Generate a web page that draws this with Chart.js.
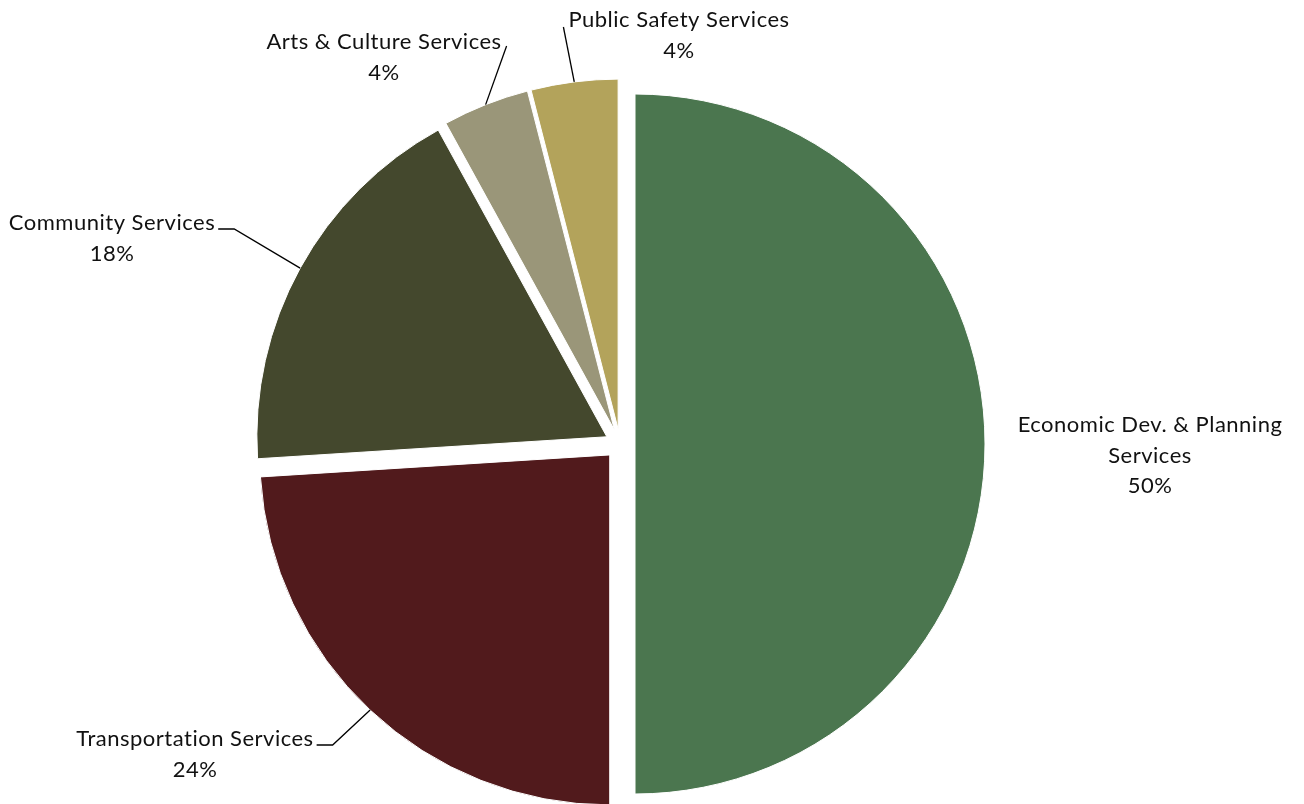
<!DOCTYPE html>
<html>
<head>
<meta charset="utf-8">
<script src="https://cdn.jsdelivr.net/npm/chart.js@4/dist/chart.umd.min.js"></script>
<style>
  html, body { margin: 0; padding: 0; background: #fff; }
  #wrap { width: 1304px; height: 804px; position: relative; }
</style>
</head>
<body>
<div id="wrap"><canvas id="myChart"></canvas></div>
<script>
// budget share by service area, percent
const categories = [
  ['Economic Dev. & Planning', 'Services'],
  'Transportation Services',
  'Community Services',
  'Arts & Culture Services',
  'Public Safety Services'
];
const shares = [50, 24, 18, 4, 4];
const sliceColors = ['#4b764f', '#511a1c', '#44482d', '#9a9679', '#b3a35b'];

// label placement: centre of the first text line, and which side the leader leaves from
const labelSpots = [
  { x: 1150, y: 425, leader: null },
  { x: 195, y: 739, leader: 'elbow' },
  { x: 112, y: 223, leader: 'elbow' },
  { x: 384, y: 42, leader: 'right' },
  { x: 679, y: 20, leader: 'left' }
];

const EXPLODE = 15;
const FONT = '22px Lato';
const LINE_H = 30.5;

const ctx = document.getElementById('myChart');

// pull every slice out along its middle angle
const explodePlugin = {
  id: 'explode',
  beforeDatasetDraw(chart, args) {
    const c = chart.ctx;
    args.meta.data.forEach(arc => {
      const mid = (arc.startAngle + arc.endAngle) / 2;
      c.save();
      c.translate(Math.cos(mid) * EXPLODE, Math.sin(mid) * EXPLODE);
      arc.draw(c);
      c.restore();
    });
    return false;
  }
};

const labelPlugin = {
  id: 'sliceLabels',
  afterDatasetsDraw(chart) {
    const c = chart.ctx;
    const arcs = chart.getDatasetMeta(0).data;
    c.save();
    c.font = FONT;
    c.letterSpacing = '0.5px';
    c.fillStyle = '#111';
    c.strokeStyle = '#000';
    c.lineWidth = 1.3;
    c.textAlign = 'center';
    c.textBaseline = 'middle';
    arcs.forEach((arc, i) => {
      const spot = labelSpots[i];
      const name = categories[i];
      const lines = (Array.isArray(name) ? name : [name]).concat(shares[i] + '%');
      lines.forEach((t, k) => c.fillText(t, spot.x, spot.y + k * LINE_H));
      if (!spot.leader) return;

      const mid = (arc.startAngle + arc.endAngle) / 2;
      const ex = arc.x + Math.cos(mid) * (EXPLODE + arc.outerRadius);
      const ey = arc.y + Math.sin(mid) * (EXPLODE + arc.outerRadius);
      const w = c.measureText(lines[0]).width;
      c.beginPath();
      if (spot.leader === 'elbow') {
        const sx = spot.x + w / 2 + 3;
        const sy = spot.y + 6;
        c.moveTo(sx, sy);
        c.lineTo(sx + 16, sy);
      } else if (spot.leader === 'right') {
        c.moveTo(spot.x + w / 2 + 5, spot.y + 4);
      } else {
        c.moveTo(spot.x - w / 2 - 5, spot.y + 7);
      }
      c.lineTo(ex, ey);
      c.stroke();
    });
    c.restore();
  }
};

const chart = new Chart(ctx, {
  type: 'pie',
  data: {
    labels: categories,
    datasets: [{
      data: shares,
      backgroundColor: sliceColors,
      borderColor: '#ffffff',
      borderWidth: 1
    }]
  },
  options: {
    responsive: true,
    maintainAspectRatio: false,
    animation: false,
    radius: 350,
    layout: { padding: { left: 0, right: 64, top: 84, bottom: 0 } },
    plugins: {
      legend: { display: false },
      tooltip: { enabled: false }
    }
  },
  plugins: [explodePlugin, labelPlugin]
});
</script>
</body>
</html>
